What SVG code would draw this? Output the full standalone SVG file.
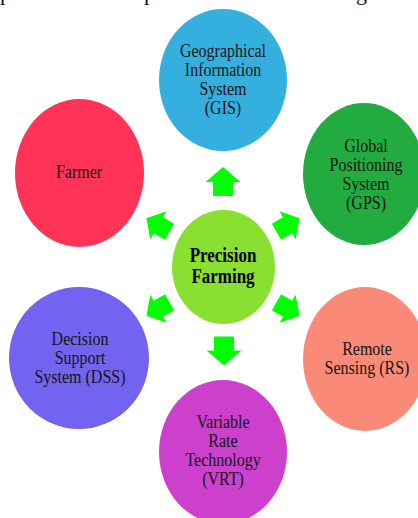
<svg xmlns="http://www.w3.org/2000/svg" xmlns:xlink="http://www.w3.org/1999/xlink" width="418" height="518" viewBox="0 0 418 518">
<style>
.t{font-family:"Liberation Serif","Times New Roman",serif;font-size:16px;fill:#151515;text-anchor:middle}
.b{font-weight:bold;font-size:17px;fill:#000}
.top{font-family:"Liberation Serif","Times New Roman",serif;font-size:22px;fill:#111}
.arrow{fill:#00FF00}
</style>
<defs>
<path id="arr" d="M0,-14.5 L17.5,0.5 L10,0.5 L10,14.5 L-10,14.5 L-10,0.5 L-17.5,0.5 Z"/>
</defs>
<rect width="418" height="518" fill="#fff"/>
<g id="caption-fragment">
<text class="top" x="0" y="-0.5">p</text>
<text class="top" x="144" y="-0.5">p</text>
<text class="top" x="356" y="-0.5">g</text>
</g>
<g id="connectors" class="arrow">
<use xlink:href="#arr" transform="translate(223,181.5)"/>
<use xlink:href="#arr" transform="translate(224,351) rotate(180)"/>
<use xlink:href="#arr" transform="translate(158,225) rotate(-60) scale(0.92)"/>
<use xlink:href="#arr" transform="translate(288,225) rotate(60) scale(0.92)"/>
<use xlink:href="#arr" transform="translate(158,309) rotate(-120) scale(0.92)"/>
<use xlink:href="#arr" transform="translate(288,309) rotate(120) scale(0.92)"/>
</g>
<g id="gis">
<ellipse cx="223" cy="80" rx="64" ry="71" fill="#35B0DE"/>
<text class="t" transform="translate(223,57) scale(1,1.2)">Geographical</text>
<text class="t" transform="translate(223,76) scale(1,1.2)">Information</text>
<text class="t" transform="translate(223,95) scale(1,1.2)">System</text>
<text class="t" transform="translate(223,114) scale(1,1.2)">(GIS)</text>
</g>
<g id="gps">
<ellipse cx="364" cy="174" rx="61" ry="71" fill="#22AB3E"/>
<text class="t" transform="translate(366,152) scale(1,1.2)">Global</text>
<text class="t" transform="translate(366,171) scale(1,1.2)">Positioning</text>
<text class="t" transform="translate(366,190) scale(1,1.2)">System</text>
<text class="t" transform="translate(366,209) scale(1,1.2)">(GPS)</text>
</g>
<g id="farmer">
<ellipse cx="79.5" cy="173" rx="64.5" ry="74" fill="#FF3355"/>
<text class="t" transform="translate(79,178) scale(1,1.2)">Farmer</text>
</g>
<g id="dss">
<ellipse cx="79" cy="358" rx="70" ry="71" fill="#7263F0"/>
<text class="t" transform="translate(80,345) scale(1,1.2)">Decision</text>
<text class="t" transform="translate(80,364) scale(1,1.2)">Support</text>
<text class="t" transform="translate(80,383) scale(1,1.2)">System (DSS)</text>
</g>
<g id="rs">
<ellipse cx="365" cy="359" rx="62" ry="72" fill="#F98A78"/>
<text class="t" transform="translate(367,355) scale(1,1.2)">Remote</text>
<text class="t" transform="translate(367,374) scale(1,1.2)">Sensing (RS)</text>
</g>
<g id="vrt">
<ellipse cx="223" cy="452" rx="64" ry="72" fill="#CC40CC"/>
<text class="t" transform="translate(223,428) scale(1,1.2)">Variable</text>
<text class="t" transform="translate(223,447) scale(1,1.2)">Rate</text>
<text class="t" transform="translate(223,466) scale(1,1.2)">Technology</text>
<text class="t" transform="translate(223,485) scale(1,1.2)">(VRT)</text>
</g>
<g id="precision-farming">
<ellipse cx="223.5" cy="267" rx="51.5" ry="57" fill="#8AE030"/>
<text class="t b" transform="translate(223,262) scale(1,1.2)">Precision</text>
<text class="t b" transform="translate(223,283) scale(1,1.2)">Farming</text>
</g>
</svg>
